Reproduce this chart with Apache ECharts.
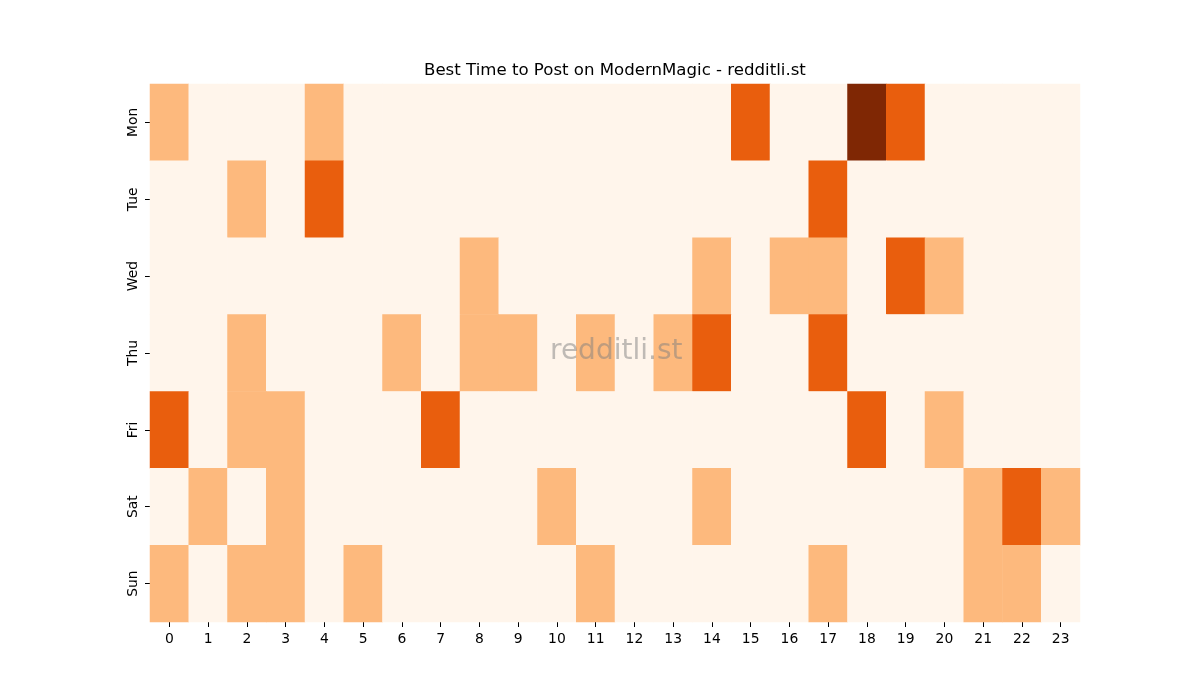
<html>
<head>
<meta charset="utf-8">
<script src="https://cdn.jsdelivr.net/npm/echarts@6/dist/echarts.min.js"></script>
</head>
<body style="margin:0">
<div id="chart-main" style="width:1200px;height:700px;"></div>
<script type="text/javascript">
	// hours and days
	var hours = ['0','1','2','3','4','5','6','7','8','9','10','11','12','13','14','15','16','17','18','19','20','21','22','23'];
	var days = ['Mon','Tue','Wed','Thu','Fri','Sat','Sun'];

	// activity level per day, one value per hour (0..3)
	var mon = [1,0,0,0,1,0,0,0,0,0,0,0,0,0,0,2,0,0,3,2,0,0,0,0];
	var tue = [0,0,1,0,2,0,0,0,0,0,0,0,0,0,0,0,0,2,0,0,0,0,0,0];
	var wed = [0,0,0,0,0,0,0,0,1,0,0,0,0,0,1,0,1,1,0,2,1,0,0,0];
	var thu = [0,0,1,0,0,0,1,0,1,1,0,1,0,1,2,0,0,2,0,0,0,0,0,0];
	var fri = [2,0,1,1,0,0,0,2,0,0,0,0,0,0,0,0,0,0,2,0,1,0,0,0];
	var sat = [0,1,0,1,0,0,0,0,0,0,1,0,0,0,1,0,0,0,0,0,0,1,2,1];
	var sun = [1,0,1,1,0,1,0,0,0,0,0,1,0,0,0,0,0,1,0,0,0,1,1,0];

	var rows = [mon, tue, wed, thu, fri, sat, sun];
	var data = [];
	rows.forEach(function (row, d) {
		row.forEach(function (v, h) {
			data.push([h, d, v]);
		});
	});

	var myChart = echarts.init(document.getElementById('chart-main'));
	var font = 'DejaVu Sans';
	var option = {
		animation: false,
		backgroundColor: '#ffffff',
		title: {
			text: 'Best Time to Post on ModernMagic - redditli.st',
			left: 419,
			top: 57,
			textStyle: {fontFamily: font, fontSize: 16.6, fontWeight: 'normal', color: '#000'}
		},
		grid: {left: 150, right: 120, top: 84, bottom: 78},
		xAxis: {
			type: 'category',
			data: hours,
			axisLine: {show: false},
			axisTick: {show: true, alignWithLabel: true, length: 5, lineStyle: {color: '#000'}},
			axisLabel: {fontFamily: font, fontSize: 13.9, color: '#000', margin: 10, interval: 0},
			splitLine: {show: false}
		},
		yAxis: {
			type: 'category',
			data: days,
			inverse: true,
			axisLine: {show: false},
			axisTick: {show: true, alignWithLabel: true, length: 5, lineStyle: {color: '#000'}},
			axisLabel: {fontFamily: font, fontSize: 13.9, color: '#000', rotate: 90, margin: 10},
			splitLine: {show: false}
		},
		visualMap: {
			show: false,
			type: 'piecewise',
			dimension: 2,
			pieces: [
				{value: 0, color: '#fff5eb'},
				{value: 1, color: '#fdb97d'},
				{value: 2, color: '#e95e0d'},
				{value: 3, color: '#7f2704'}
			]
		},
		graphic: [{
			type: 'text',
			left: 550,
			top: 338,
			z: 100,
			style: {
				text: 'redditli.st',
				font: '28px "DejaVu Sans"',
				fill: 'rgba(128,128,128,0.5)'
			}
		}],
		series: [{
			type: 'heatmap',
			data: data,
			itemStyle: {borderWidth: 0, opacity: 1},
			emphasis: {disabled: true}
		}]
	};
	myChart.setOption(option);
</script>
</body>
</html>
